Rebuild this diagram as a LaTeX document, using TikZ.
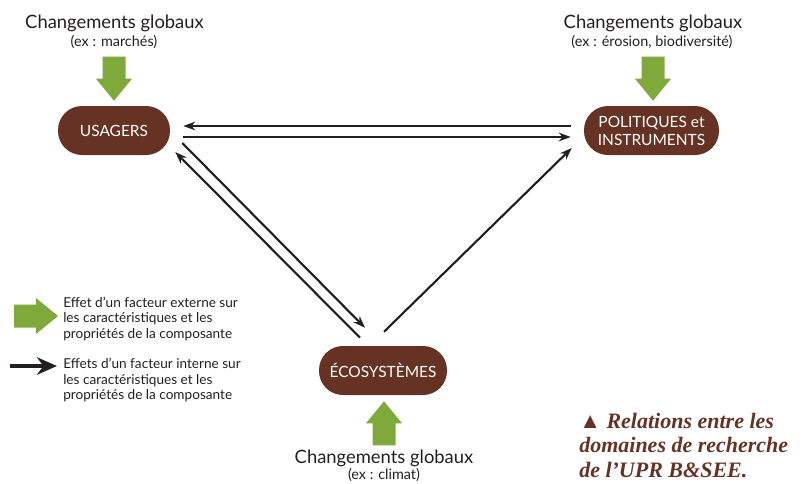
\documentclass[tikz,border=0pt]{standalone}
\usepackage{fontspec}
\setmainfont{Lato}
\newfontfamily\capfont{Liberation Serif}
\usetikzlibrary{arrows.meta,calc}

\definecolor{brun}{RGB}{101,50,35}
\definecolor{vert}{RGB}{128,169,60}
\definecolor{encre}{RGB}{35,31,32}

\tikzset{
  domaine/.style={fill=brun, text=white, rounded corners=18pt, minimum height=36.75pt, inner sep=0pt, align=center, font=\fontsize{11.6}{13.5}\selectfont},
  lien/.style={draw=encre, line width=1.6pt, -{Stealth[length=9pt,width=6.5pt]}},
  titre/.style={anchor=base, text=encre, inner sep=0pt, font=\fontsize{13.8}{16}\selectfont},
  exemple/.style={anchor=base, text=encre, inner sep=0pt, font=\fontsize{10.8}{12}\selectfont},
  legende/.style={anchor=north west, text=encre, inner sep=0pt, align=left, font=\fontsize{10.2}{11.6}\selectfont},
  flux/.pic={\fill[vert] (0,0) -- (-18,-22) -- (-11.5,-22) -- (-11.5,-44) -- (11.5,-44) -- (11.5,-22) -- (18,-22) -- cycle;}
}

\begin{document}
\begin{tikzpicture}[x=0.75pt,y=-0.75pt]
\useasboundingbox (0,0) rectangle (811,483);

%Shape: domaines
\node[domaine, minimum width=84pt] (usa) at (114,130.5) {USAGERS};
\node[domaine, minimum width=101.25pt] (pol) at (651.5,130.5) {POLITIQUES et\\INSTRUMENTS};
\node[domaine, minimum width=96pt] (eco) at (383,370.5) {ÉCOSYSTÈMES};

% Text Node
\node[titre] (cgu) at (114.5,28) {Changements globaux};
\node[exemple] (exu) at (114,46) {(ex : marchés)};
\node[titre] (cgp) at (653,28) {Changements globaux};
\node[exemple] (exp) at (652,46) {(ex : érosion, biodiversité)};
\node[titre] (cge) at (384,463) {Changements globaux};
\node[exemple] (exe) at (384,479) {(ex : climat)};

%Shape: facteurs externes
\pic at ($(usa.north)+(0,-5)$) {flux};
\pic at ($(pol.north)+(1.5,-5)$) {flux};
\pic[rotate=180] at ($(eco.south)+(1,6)$) {flux};

%Straight Lines
\draw[lien] ($(pol.west)+(-13,-4.5)$) -- ($(usa.east)+(13,-4.5)$);
\draw[lien] ($(usa.east)+(13,6.5)$) -- ($(pol.west)+(-13,6.5)$);
\draw[lien] ($(usa.east)+(12,12.5)$) -- ($(eco.north)+(-18,-18)$);
\draw[lien] ($(eco.north)+(-23,-8)$) -- ($(usa.east)+(5,21.5)$);
\draw[lien] ($(eco.north)+(1,-14)$) -- ($(pol.west)+(-12,17.5)$);

% Legende
\pic[rotate=90] at (58,316) {flux};
\node[legende] (lgext) at (63,296.5) {Effet d’un facteur externe sur\\les caractéristiques et les\\propriétés de la composante};
\coordinate (lgs) at (10,366);
\coordinate (lge) at (57,366);
\draw[encre, line width=3.5pt, -{Stealth[length=15pt,width=13pt]}] (lgs) -- (lge);
\node[legende] (lgint) at (63,358) {Effets d’un facteur interne sur\\les caractéristiques et les\\propriétés de la composante};

% Text Node
\node[anchor=base west, inner sep=0pt, align=left, text=brun, font=\capfont\fontsize{16.5}{18.2}\selectfont\bfseries\itshape] (cap) at (579,477) {▲ Relations entre les\\domaines de recherche\\de l’UPR B\&SEE.};

\end{tikzpicture}
\end{document}
